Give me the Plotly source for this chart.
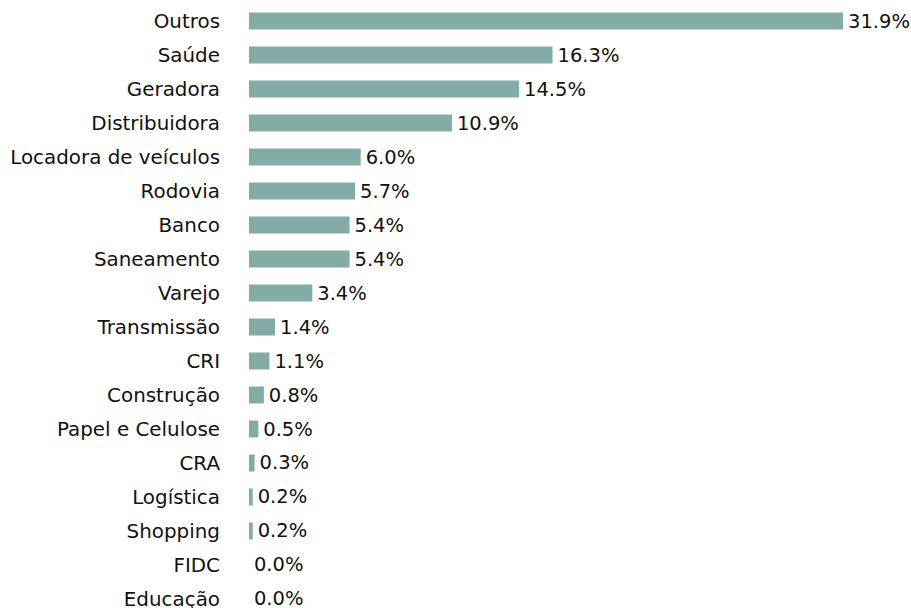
import plotly.graph_objects as go

categories = ["Outros", "Saúde", "Geradora", "Distribuidora", "Locadora de veículos",
              "Rodovia", "Banco", "Saneamento", "Varejo", "Transmissão", "CRI",
              "Construção", "Papel e Celulose", "CRA", "Logística", "Shopping",
              "FIDC", "Educação"]
values = [31.9, 16.3, 14.5, 10.9, 6.0, 5.7, 5.4, 5.4, 3.4, 1.4, 1.1,
          0.8, 0.5, 0.3, 0.2, 0.2, 0.0, 0.0]

FONT = "DejaVu Sans"

fig = go.Figure(go.Bar(
    x=values, y=categories, orientation="h",
    marker=dict(color="#84ACA7", line=dict(width=0)),
    width=0.5,
    text=["\u200a" + f"{v:.1f}%" for v in values],
    textposition="outside",
    constraintext="none",
    textfont=dict(family=FONT, size=19.5, color="#111111"),
    cliponaxis=False,
    hoverinfo="skip",
))

fig.update_layout(
    width=911, height=608,
    margin=dict(l=249, r=54, t=0, b=0, autoexpand=False),
    paper_bgcolor="white", plot_bgcolor="white",
    showlegend=False,
    font=dict(family=FONT, size=20, color="#111111"),
    uniformtext=dict(mode=False),
    xaxis=dict(range=[0, 32.65], visible=False, showgrid=False, zeroline=False,
               automargin=False),
    yaxis=dict(type="category", categoryorder="array", categoryarray=categories,
               range=[17.265, -0.618], showgrid=False, zeroline=False, showline=False,
               ticks="", ticklabelstandoff=28, automargin=False,
               tickfont=dict(family=FONT, size=19.9, color="#111111")),
)

fig.write_html(
    "out.html",
    config={"displayModeBar": False},
    post_script="document.body.style.margin='0';"
                "document.documentElement.style.overflow='hidden';"
                "document.body.style.overflow='hidden';",
)
